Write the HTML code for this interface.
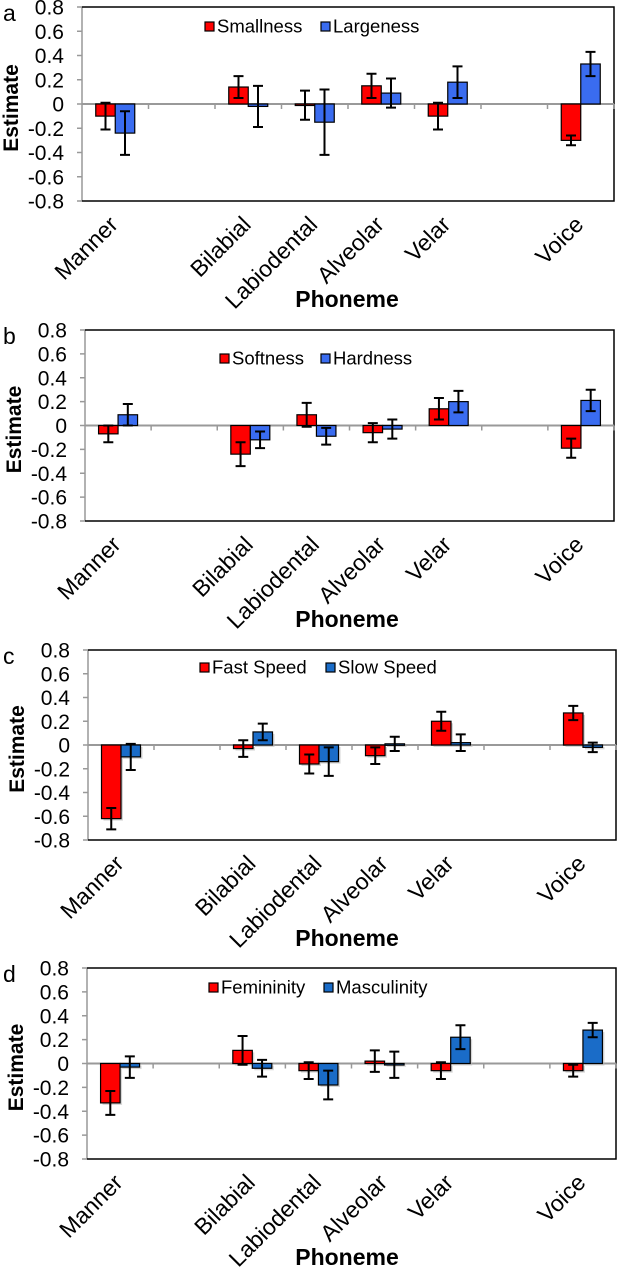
<!DOCTYPE html>
<html><head><meta charset="utf-8">
<style>
html,body{margin:0;padding:0;background:#fff;}
svg{display:block;font-family:"Liberation Sans",Arial,sans-serif;}
</style></head>
<body>
<svg id="chart" width="617" height="1267" viewBox="0 0 617 1267" xmlns="http://www.w3.org/2000/svg"></svg>
<script>
const categories = ["Manner","","Bilabial","Labiodental","Alveolar","Velar","","Voice"];
const yTicks = [0.8,0.6,0.4,0.2,0,-0.2,-0.4,-0.6,-0.8];
const yTickLabels = ["0.8","0.6","0.4","0.2","0","-0.2","-0.4","-0.6","-0.8"];
const panelLetters = ["a","b","c","d"];
const seriesNamesA = ["Smallness","Largeness"];
const seriesNamesB = ["Softness","Hardness"];
const seriesNamesC = ["Fast Speed","Slow Speed"];
const seriesNamesD = ["Femininity","Masculinity"];
// values per category (null = empty slot)
const smallness = [-0.10,null,0.14,-0.01,0.15,-0.10,null,-0.30];
const smallnessErr = [0.11,null,0.09,0.12,0.10,0.11,null,0.04];
const largeness = [-0.24,null,-0.02,-0.15,0.09,0.18,null,0.33];
const largenessErr = [0.18,null,0.17,0.27,0.12,0.13,null,0.10];
const softness = [-0.07,null,-0.24,0.09,-0.06,0.14,null,-0.19];
const softnessErr = [0.07,null,0.10,0.10,0.08,0.09,null,0.08];
const hardness = [0.09,null,-0.12,-0.09,-0.03,0.20,null,0.21];
const hardnessErr = [0.09,null,0.07,0.07,0.08,0.09,null,0.09];
const fastSpeed = [-0.62,null,-0.03,-0.16,-0.09,0.20,null,0.27];
const fastSpeedErr = [0.09,null,0.07,0.08,0.07,0.08,null,0.06];
const slowSpeed = [-0.10,null,0.11,-0.14,0.01,0.02,null,-0.02];
const slowSpeedErr = [0.11,null,0.07,0.12,0.06,0.07,null,0.04];
const femininity = [-0.33,null,0.11,-0.06,0.02,-0.06,null,-0.06];
const femininityErr = [0.10,null,0.12,0.07,0.09,0.07,null,0.05];
const masculinity = [-0.03,null,-0.04,-0.18,-0.01,0.22,null,0.28];
const masculinityErr = [0.09,null,0.07,0.12,0.11,0.10,null,0.06];

const NS="http://www.w3.org/2000/svg";
const svg=document.getElementById('chart');
function mk(tag,attrs,parent,text){const e=document.createElementNS(NS,tag);for(const k in attrs)e.setAttribute(k,attrs[k]);if(text!==undefined)e.textContent=text;parent.appendChild(e);return e;}

const panels=[
 {L:82,R:614,T:7,B:201,names:seriesNamesA,s1:smallness,e1:smallnessErr,s2:largeness,e2:largenessErr,c1:"#ff0000",c2:"#3a6cf0",leg1:205,leg2:321,legY:22,shadow:false},
 {L:85,R:614,T:330,B:521,names:seriesNamesB,s1:softness,e1:softnessErr,s2:hardness,e2:hardnessErr,c1:"#ff0000",c2:"#3a6cf0",leg1:220,leg2:321,legY:354,shadow:false},
 {L:88,R:616,T:650,B:840,names:seriesNamesC,s1:fastSpeed,e1:fastSpeedErr,s2:slowSpeed,e2:slowSpeedErr,c1:"#ff0000",c2:"#1a6cc8",leg1:200,leg2:326,legY:663,shadow:true},
 {L:87,R:616,T:968,B:1159,names:seriesNamesD,s1:femininity,e1:femininityErr,s2:masculinity,e2:masculinityErr,c1:"#ff0000",c2:"#1a6cc8",leg1:209,leg2:324,legY:983,shadow:true}
];

panels.forEach((p,pi)=>{
 const g=mk('g',{},svg);
 
 
 const y=v=>p.T+(0.8-v)/1.6*(p.B-p.T);
 const cw=(p.R-p.L)/categories.length;
 const x=i=>p.L+cw*(i+0.5);
 const letter=mk('text',{x:3,y:p.T+14,'font-size':23},g,panelLetters[pi]);
 
 
 yTicks.forEach((t,i)=>{
  mk('line',{x1:p.L-5,x2:p.L,y1:y(t),y2:y(t),stroke:'#999','stroke-width':1.5},g);
  const tl=mk('text',{x:p.L-18,y:y(t)+7.5,'font-size':21,'text-anchor':'end'},g,yTickLabels[i]);
  
  
 });
 mk('line',{x1:p.L,x2:p.L,y1:p.T,y2:p.B,stroke:'#999','stroke-width':1.5},g);
 mk('polyline',{points:`${p.L},${p.T} ${p.R},${p.T} ${p.R},${p.B} ${p.L},${p.B}`,fill:'none',stroke:'#000','stroke-width':1.5},g);
 const yt=mk('text',{x:0,y:0,'font-size':21,'font-weight':'bold','text-anchor':'middle',transform:`translate(${p.L-64},${(p.T+p.B)/2+4}) rotate(-90)`},g,'Estimate');
 
 
 mk('line',{x1:p.L,x2:p.R,y1:y(0),y2:y(0),stroke:'#999','stroke-width':2},g);
 for(let i=1;i<=categories.length;i++){mk('line',{x1:p.L+cw*i,x2:p.L+cw*i,y1:y(0),y2:y(0)+5,stroke:'#999','stroke-width':1.5},g);}
 const bw=19.5;
 [[p.s1,p.e1,p.c1,-1,'bar-'+p.names[0].toLowerCase().replace(' ','-')],[p.s2,p.e2,p.c2,0,'bar-'+p.names[1].toLowerCase().replace(' ','-')]].forEach(s=>{
  s[0].forEach((v,i)=>{
   if(v===null)return;
   const bx=x(i)+s[3]*bw;
   const top=Math.min(y(v),y(0)),h=Math.abs(y(v)-y(0));
   if(p.shadow){mk('rect',{x:bx+2,y:top+2,width:bw,height:h,fill:'#bbb',opacity:0.6},g);}
   const r=mk('rect',{x:bx,y:top,width:bw,height:Math.max(h,1.5),fill:s[2],stroke:'#000','stroke-width':1.2},g);
   
   
   const ex=bx+bw/2,e=s[1][i];
   const eb=mk('path',{d:`M${ex},${y(v-e)}V${y(v+e)}M${ex-5},${y(v-e)}H${ex+5}M${ex-5},${y(v+e)}H${ex+5}`,stroke:'#000','stroke-width':2,fill:'none'},g);
   
   
  });
 });
 categories.forEach((c,i)=>{
  if(!c)return;
  const t=mk('text',{'font-size':23,'text-anchor':'end',transform:`translate(${x(i)+4},${p.B+25}) rotate(-45)`},g,c);
  
  
 });
 const xt=mk('text',{x:347,y:p.B+106,'font-size':23,'font-weight':'bold','text-anchor':'middle'},g,'Phoneme');
 
 
 [[p.leg1,p.c1,p.names[0]],[p.leg2,p.c2,p.names[1]]].forEach(l=>{
  const lg=mk('g',{},g);
  
  
  mk('rect',{x:l[0],y:p.legY,width:9,height:9,fill:l[1],stroke:'#000','stroke-width':1.2},lg);
  mk('text',{x:l[0]+12,y:p.legY+10.5,'font-size':18.5},lg,l[2]);
 });
});
</script>
</body></html>
